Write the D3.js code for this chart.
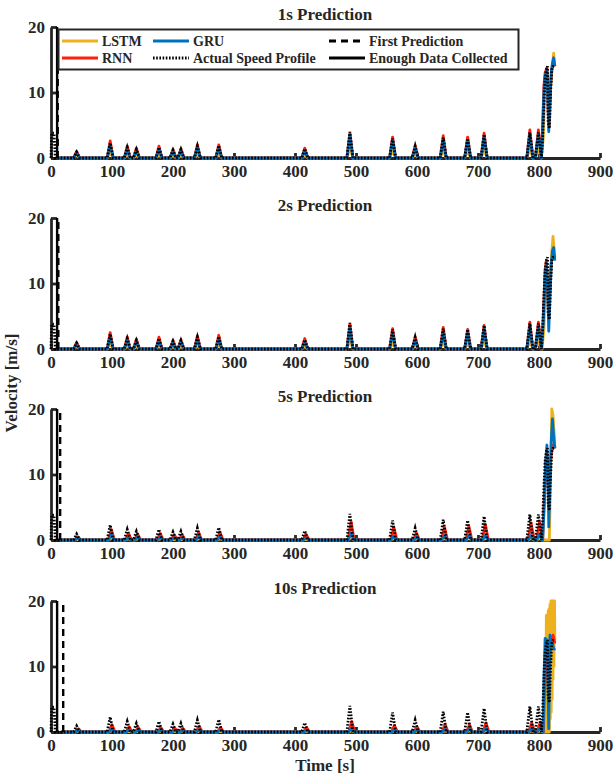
<!DOCTYPE html>
<html>
<head>
<meta charset="utf-8">
<script src="https://cdn.jsdelivr.net/npm/d3@7/dist/d3.min.js"></script>
<style>
body { margin: 0; background: #fff; }
text { font-family: "Liberation Serif", "Times New Roman", serif; font-weight: bold; fill: #262626; }
</style>
</head>
<body>
<svg width="613" height="777"></svg>
<script>
// prediction horizons (s) and panel titles
var horizons = [1, 2, 5, 10];
var titles = ["1s Prediction", "2s Prediction", "5s Prediction", "10s Prediction"];
var xTicks = [0, 100, 200, 300, 400, 500, 600, 700, 800, 900];
var yTicks = [0, 10, 20];
var enoughT = 10;

// times of the short speed bumps and the peaks
var spikeTimes  = [42, 97, 125, 140, 177, 200, 213, 240, 275, 416, 490, 560, 597, 643, 683, 710, 785, 799];
var actualPeaks = [0.9, 2.3, 1.6, 1.3, 1.6, 1.2, 1.3, 1.8, 1.9, 1.4, 4.0, 3.0, 1.8, 3.1, 3.0, 3.6, 3.9, 3.9];
var actualStartT = [0, 1, 5, 7];
var actualStartV = [0, 3.8, 3.8, 0];
var actualEndT = [804, 806, 808, 810, 812, 814, 815, 817, 819, 821, 823, 826];
var actualEndV = [0, 3, 8, 12, 13.5, 14, 5.5, 4.5, 10, 13.5, 14, 14];

// per panel: 1s, 2s, 5s, 10s
var predLag = [0, 0, 2, 3];
var lstmPeaks = [
  [0.4, 0.8, 0.5, 0.4, 0.5, 0.4, 0.4, 0.5, 0.6, 0.4, 1.5, 1.0, 0.6, 1.1, 1.0, 1.2, 1.4, 1.4],
  [0.4, 0.7, 0.5, 0.4, 0.5, 0.4, 0.4, 0.5, 0.6, 0.4, 1.3, 0.9, 0.6, 1.0, 0.9, 1.1, 1.2, 1.2],
  [0.1, 0.3, 0.2, 0.2, 0.2, 0.1, 0.1, 0.2, 0.2, 0.1, 0.4, 0.3, 0.2, 0.3, 0.3, 0.3, 0.3, 0.3],
  [0.1, 0.2, 0.1, 0.1, 0.1, 0.1, 0.1, 0.1, 0.1, 0.1, 0.2, 0.2, 0.1, 0.2, 0.2, 0.2, 0.2, 0.2]
];
var rnnPeaks = [
  [1.0, 2.6, 1.8, 1.5, 1.8, 1.3, 1.4, 2.0, 2.0, 1.5, 3.8, 3.2, 1.9, 3.4, 3.2, 3.8, 4.3, 4.3],
  [1.0, 2.5, 1.8, 1.5, 1.8, 1.3, 1.4, 2.0, 2.1, 1.6, 3.8, 3.1, 1.8, 3.3, 3.0, 3.6, 4.1, 4.1],
  [0.5, 1.6, 1.0, 0.9, 1.0, 0.8, 0.8, 1.2, 1.2, 0.9, 2.8, 2.0, 1.1, 2.0, 2.1, 2.4, 2.6, 2.8],
  [0.5, 1.1, 0.8, 0.7, 0.7, 0.6, 0.6, 0.9, 0.7, 0.7, 1.6, 1.0, 0.8, 1.2, 1.1, 1.4, 1.4, 1.5]
];
var gruPeaks = [
  [0.8, 2.0, 1.3, 1.1, 1.3, 1.0, 1.1, 1.5, 1.5, 1.2, 3.5, 2.7, 1.5, 2.8, 2.7, 3.3, 3.6, 3.6],
  [0.7, 1.8, 1.2, 1.0, 1.2, 0.9, 1.0, 1.4, 1.4, 1.1, 3.2, 2.4, 1.4, 2.5, 2.4, 3.0, 3.3, 3.3],
  [0.3, 0.8, 0.4, 0.4, 0.4, 0.3, 0.3, 0.5, 0.5, 0.3, 1.0, 0.6, 0.4, 0.6, 0.6, 0.7, 0.7, 0.8],
  [0.2, 0.5, 0.3, 0.3, 0.3, 0.2, 0.2, 0.3, 0.3, 0.2, 0.6, 0.4, 0.3, 0.4, 0.4, 0.5, 0.5, 0.6]
];

// the fast part at the end of the drive
var lstmEndT = [
  [804, 807, 809, 811, 813, 815, 817, 819, 822, 824, 826],
  [805, 808, 811, 813, 815, 817, 819, 821, 823, 826],
  [812, 817, 819, 821, 823, 825, 826],
  [811, 812, 812.5, 813.5, 814, 815, 815.5, 816.5, 817, 818, 818.5, 819.5, 820, 821, 821.5, 822.5, 823, 824, 824.5, 825.5, 826]
];
var lstmEndV = [
  [0, 3, 9, 12, 13, 9, 6, 11, 14, 16, 14],
  [0, 3, 10, 12, 8, 6, 11, 15, 17.2, 14],
  [0, 0, 10, 20, 19, 16, 14],
  [0, 17.8, 0, 17.8, 0, 18.5, 0, 18.8, 0, 19.5, 2, 20, 3, 20, 5, 20, 8, 20, 10, 20, 14]
];
var rnnEndT = [
  [804, 806, 808, 810, 813, 815, 817, 819, 821, 823, 826],
  [804, 807, 810, 812, 814, 816, 818, 820, 823, 826],
  [806, 808, 811, 813, 815, 817, 819, 822, 826],
  [807, 809, 811, 813, 815, 817, 819, 821, 823, 826]
];
var rnnEndV = [
  [0, 5, 11, 13, 13.8, 7, 5, 11, 13.5, 14.5, 14],
  [0, 5, 12, 13.5, 9, 5, 10, 13, 14.5, 14],
  [0, 5, 12, 13.5, 8, 7, 12, 14.5, 14],
  [0, 6, 12, 13.5, 7, 9, 13, 14, 14.8, 13.5]
];
var gruEndT = [
  [804, 806, 808, 810, 813, 815, 816, 818, 820, 822, 824, 826],
  [804, 807, 810, 812, 814, 816, 818, 820, 822, 824, 826],
  [806, 809, 811, 813, 815, 816, 818, 820, 822, 824, 826],
  [807, 808, 810, 814, 815, 816, 818, 820, 822, 824, 826]
];
var gruEndV = [
  [0, 4, 10, 12.5, 13.5, 8, 4, 9, 13, 14.5, 15.3, 14],
  [0, 4, 11, 13, 10, 2.7, 8, 13, 15, 15.5, 13.5],
  [0, 6, 12, 14.5, 9, 2, 9, 15, 18.5, 16, 14],
  [0, 8, 14.3, 14, 6, 0.5, 14.8, 13, 13.5, 12.8, 12.5]
];

var colors = { lstm: "#EDB120", rnn: "#FF1F0F", gru: "#0072BD", axis: "#262626" };

var svg = d3.select("svg");
var x = d3.scaleLinear().domain([0, 900]).range([51, 600]);
var panelTop = [27, 218, 409, 601];
var panelH = 131;
var halfW = 5; // half width of a bump, s

function pts(ts, vs) {
  return ts.map(function (t, i) { return { t: t, v: vs[i] }; });
}

// build a series: flat start, bumps, then the end part
function buildSeries(t0, peaks, lag, endT, endV) {
  var p = [{ t: t0, v: 0 }];
  spikeTimes.forEach(function (st, i) {
    var tt = st + lag;
    if (tt - halfW > t0) {
      p.push({ t: tt - halfW, v: 0 }, { t: tt, v: peaks[i] }, { t: tt + halfW, v: 0 });
    }
  });
  return p.concat(pts(endT, endV));
}

var actual = pts(actualStartT, actualStartV)
  .concat(buildSeries(8, actualPeaks, 0, actualEndT, actualEndV));

horizons.forEach(function (h, k) {
  var y = d3.scaleLinear().domain([0, 20]).range([panelTop[k] + panelH, panelTop[k]]);
  var g = svg.append("g");

  // axes (drawn under the data, as in the figure)
  var xa = g.append("g")
    .attr("transform", "translate(0," + y(0) + ")")
    .call(d3.axisBottom(x).tickValues(xTicks).tickSize(-5).tickSizeOuter(0).tickPadding(7));
  var ya = g.append("g")
    .attr("transform", "translate(" + x(0) + ",0)")
    .call(d3.axisLeft(y).tickValues(yTicks).tickSize(-6).tickSizeOuter(0).tickPadding(6));
  [xa, ya].forEach(function (a) {
    a.select(".domain").attr("stroke", colors.axis).attr("stroke-width", 2.8);
    a.selectAll(".tick line").attr("stroke", colors.axis).attr("stroke-width", 2.8);
    a.selectAll(".tick text").attr("font-size", 17).attr("fill", colors.axis)
      .style("font-family", "'Liberation Serif', serif").style("font-weight", "bold");
  });

  g.append("text")
    .attr("x", 325).attr("y", panelTop[k] - 7)
    .attr("text-anchor", "middle").attr("font-size", 17)
    .text(titles[k]);

  var line = d3.line().x(function (d) { return x(d.t); }).y(function (d) { return y(d.v); });
  var t0 = enoughT + h;

  var series = [
    { d: buildSeries(t0, lstmPeaks[k], predLag[k], lstmEndT[k], lstmEndV[k]), c: colors.lstm },
    { d: buildSeries(t0, rnnPeaks[k], predLag[k], rnnEndT[k], rnnEndV[k]), c: colors.rnn },
    { d: buildSeries(t0, gruPeaks[k], predLag[k], gruEndT[k], gruEndV[k]), c: colors.gru }
  ];
  g.selectAll("path.pred")
    .data(series)
    .enter()
    .append("path")
    .attr("class", "pred")
    .attr("d", function (s) { return line(s.d); })
    .attr("fill", "none")
    .attr("stroke", function (s) { return s.c; })
    .attr("stroke-width", 2.8)
    .attr("stroke-linejoin", "round");

  g.append("path")
    .attr("d", line(actual))
    .attr("fill", "none")
    .attr("stroke", "#000")
    .attr("stroke-width", 2.8)
    .attr("stroke-dasharray", "1.6,1.6");

  // first prediction (dashed) and enough data collected (solid)
  g.append("line")
    .attr("x1", x(t0)).attr("x2", x(t0))
    .attr("y1", y(0)).attr("y2", y(20))
    .attr("stroke", "#000").attr("stroke-width", 2.4)
    .attr("stroke-dasharray", "7,5");
  g.append("line")
    .attr("x1", x(enoughT)).attr("x2", x(enoughT))
    .attr("y1", y(0)).attr("y2", y(20))
    .attr("stroke", "#000").attr("stroke-width", 2.4);
});

// legend in the first panel
var legendItems = [
  { name: "LSTM", c: colors.lstm, dash: null, lx: 62, ly: 41 },
  { name: "RNN", c: colors.rnn, dash: null, lx: 62, ly: 58 },
  { name: "GRU", c: colors.gru, dash: null, lx: 153, ly: 41 },
  { name: "Actual Speed Profile", c: "#000", dash: "1.6,1.6", lx: 153, ly: 58 },
  { name: "First Prediction", c: "#000", dash: "7,5", lx: 329, ly: 41 },
  { name: "Enough Data Collected", c: "#000", dash: null, lx: 329, ly: 58 }
];
var lg = svg.append("g");
lg.append("rect")
  .attr("x", 58.5).attr("y", 29.5).attr("width", 460).attr("height", 40)
  .attr("fill", "#fff").attr("stroke", "#262626").attr("stroke-width", 2);
var items = lg.selectAll("g.item")
  .data(legendItems)
  .enter()
  .append("g");
items.append("line")
  .attr("x1", function (d) { return d.lx; })
  .attr("x2", function (d) { return d.lx + 36; })
  .attr("y1", function (d) { return d.ly; })
  .attr("y2", function (d) { return d.ly; })
  .attr("stroke", function (d) { return d.c; })
  .attr("stroke-width", 2.8)
  .attr("stroke-dasharray", function (d) { return d.dash; });
items.append("text")
  .attr("x", function (d) { return d.lx + 40; })
  .attr("y", function (d) { return d.ly; })
  .attr("dy", "0.35em")
  .attr("font-size", 14)
  .attr("fill", "#000")
  .text(function (d) { return d.name; });

// axis labels
svg.append("text")
  .attr("x", 325).attr("y", 771)
  .attr("text-anchor", "middle").attr("font-size", 17)
  .text("Time [s]");
svg.append("text")
  .attr("transform", "translate(17,383) rotate(-90)")
  .attr("text-anchor", "middle").attr("font-size", 17)
  .text("Velocity [m/s]");
</script>
</body>
</html>
